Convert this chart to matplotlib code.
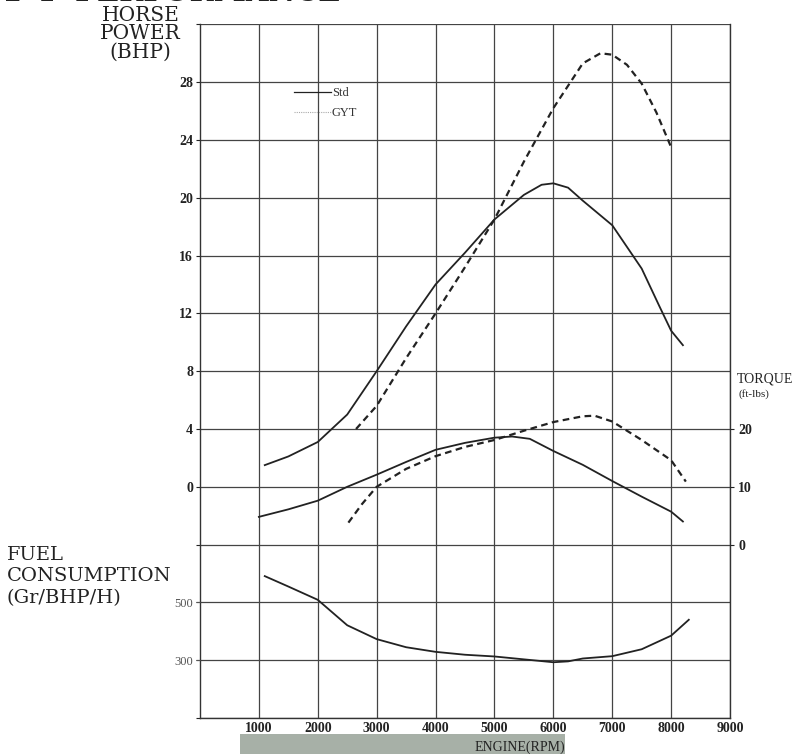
import matplotlib
matplotlib.use("Agg")
import matplotlib.pyplot as plt
from matplotlib.lines import Line2D
from matplotlib.patches import Rectangle

# engine speed grid (rpm)
rpm_ticks = [1000, 2000, 3000, 4000, 5000, 6000, 7000, 8000, 9000]

# horse power (BHP)
std_hp_rpm = [1100, 1500, 2000, 2500, 3000, 3500, 4000, 4500, 5000, 5500, 5800, 6000, 6250, 6500, 7000, 7500, 7800, 8000, 8200]
std_hp = [1.5, 2.1, 3.1, 5.0, 8.0, 11.1, 14.0, 16.2, 18.5, 20.2, 20.9, 21.0, 20.7, 19.8, 18.1, 15.1, 12.5, 10.8, 9.8]
gyt_hp_rpm = [2650, 3000, 3500, 4000, 4500, 5000, 5500, 6000, 6500, 6800, 7000, 7250, 7500, 7750, 8000]
gyt_hp = [4.0, 5.6, 8.9, 12.0, 15.2, 18.5, 22.5, 26.2, 29.3, 30.0, 29.9, 29.2, 27.9, 25.9, 23.5]

# torque (ft-lbs)
std_tq_rpm = [1000, 1500, 2000, 2500, 3000, 3500, 4000, 4500, 5000, 5300, 5600, 6000, 6500, 7000, 7500, 8000, 8200]
std_tq = [4.8, 6.1, 7.6, 10.0, 12.1, 14.3, 16.4, 17.6, 18.5, 18.7, 18.3, 16.2, 13.8, 11.0, 8.3, 5.7, 4.0]
gyt_tq_rpm = [2520, 2750, 3000, 3500, 4000, 4500, 5000, 5500, 6000, 6500, 6700, 7000, 7500, 8000, 8250]
gyt_tq = [3.8, 7.0, 10.0, 13.1, 15.3, 16.9, 18.1, 19.7, 21.2, 22.2, 22.3, 21.3, 18.1, 14.6, 10.9]

# fuel consumption (Gr/BHP/H)
fuel_rpm = [1100, 1500, 2000, 2250, 2500, 3000, 3500, 4000, 4500, 5000, 5500, 6000, 6250, 6500, 7000, 7500, 8000, 8300]
fuel = [591, 555, 509, 465, 421, 373, 345, 329, 319, 313, 303, 293, 296, 306, 314, 338, 385, 440]

hp_ticks = [0, 4, 8, 12, 16, 20, 24, 28]
tq_ticks = [0, 10, 20]
fuel_ticks = [300, 500]

serif = ["Liberation Serif", "DejaVu Serif"]
wide = ["DejaVu Serif"]
plt.rcParams["font.family"] = serif
ink = "#222222"

fig = plt.figure(figsize=(8.08, 7.54), dpi=100)
ax = fig.add_axes([0.2475, 0.0477, 0.656, 0.920])

# HP axis spans -16..32 so the grid covers torque and fuel bands too
ax.set_xlim(0, 9000)
ax.set_ylim(-16, 32)
ax.set_xticks(rpm_ticks)
ax.set_yticks(range(-16, 33, 4))
ax.set_yticklabels([str(v) if v in hp_ticks else "" for v in range(-16, 33, 4)])
ax.grid(True, color="#444444", lw=0.9)
ax.tick_params(axis="y", length=3, pad=2, labelsize=10, colors=ink)
ax.tick_params(axis="x", length=0, pad=3, labelsize=10, colors=ink)
for lab in ax.get_xticklabels() + ax.get_yticklabels():
    lab.set_fontweight("bold")
for sp in ax.spines.values():
    sp.set_color("#333333")
    sp.set_linewidth(1.0)
ax.spines["top"].set_visible(False)

ax.plot(std_hp_rpm, std_hp, color=ink, lw=1.3)
ax.plot(gyt_hp_rpm, gyt_hp, color=ink, lw=1.6, dashes=(3, 2))

# torque: 0 ft-lbs sits on the -4 BHP line, 10 ft-lbs per grid step
ax2 = ax.twinx()
ax2.set_ylim(-30, 90)
ax2.set_yticks(tq_ticks)
ax2.tick_params(axis="y", length=3, pad=3, labelsize=10, colors=ink)
for lab in ax2.get_yticklabels():
    lab.set_fontweight("bold")
for sp in ax2.spines.values():
    sp.set_visible(False)
ax2.plot(std_tq_rpm, std_tq, color=ink, lw=1.3)
ax2.plot(gyt_tq_rpm, gyt_tq, color=ink, lw=1.6, dashes=(3, 2))

# fuel: 500 on the -8 BHP line, 200 per grid step
ax3 = ax.twinx()
ax3.set_ylim(100, 2500)
ax3.yaxis.tick_left()
ax3.set_yticks(fuel_ticks)
ax3.tick_params(axis="y", length=3, pad=2, labelsize=9, colors="#555555")
for sp in ax3.spines.values():
    sp.set_visible(False)
ax3.plot(fuel_rpm, fuel, color=ink, lw=1.3)

handles = [Line2D([], [], color=ink, lw=0.9),
           Line2D([], [], color="#aaaaaa", lw=0.8, ls=(0, (1, 1)))]
leg = ax.legend(handles, ["Std", "GYT"], loc="upper left", bbox_to_anchor=(0.165, 0.918),
                frameon=False, fontsize=9, handlelength=3.0, handletextpad=0.05,
                labelspacing=0.6, borderpad=0)
for t in leg.get_texts():
    t.set_color("#333333")

# labels
fig.text(0.003, 0.9985, "1-4  PERFORMANCE", fontsize=21, fontweight="bold", va="baseline",
         color=ink, family=wide)
fig.text(0.174, 0.992, "HORSE\nPOWER\n(BHP)", fontsize=14.5, ha="center", va="top",
         linespacing=0.95, color=ink, family=wide)
fig.text(0.008, 0.276, "FUEL\nCONSUMPTION\n(Gr/BHP/H)", fontsize=14, ha="left", va="top",
         linespacing=1.25, color=ink, family=wide)
fig.text(0.912, 0.497, "TORQUE", fontsize=10, ha="left", va="center", color=ink)
fig.text(0.914, 0.477, "(ft-lbs)", fontsize=8, ha="left", va="center", color=ink)

# scanned watermark strip
fig.patches.append(Rectangle((0.297, 0.0), 0.402, 0.026, transform=fig.transFigure,
                             facecolor="#a7b0a7", edgecolor="none", zorder=-1))
fig.text(0.6436, 0.009, "ENGINE(RPM)", fontsize=10, ha="center", va="center", color=ink)

fig.savefig("out.png", dpi=100)
